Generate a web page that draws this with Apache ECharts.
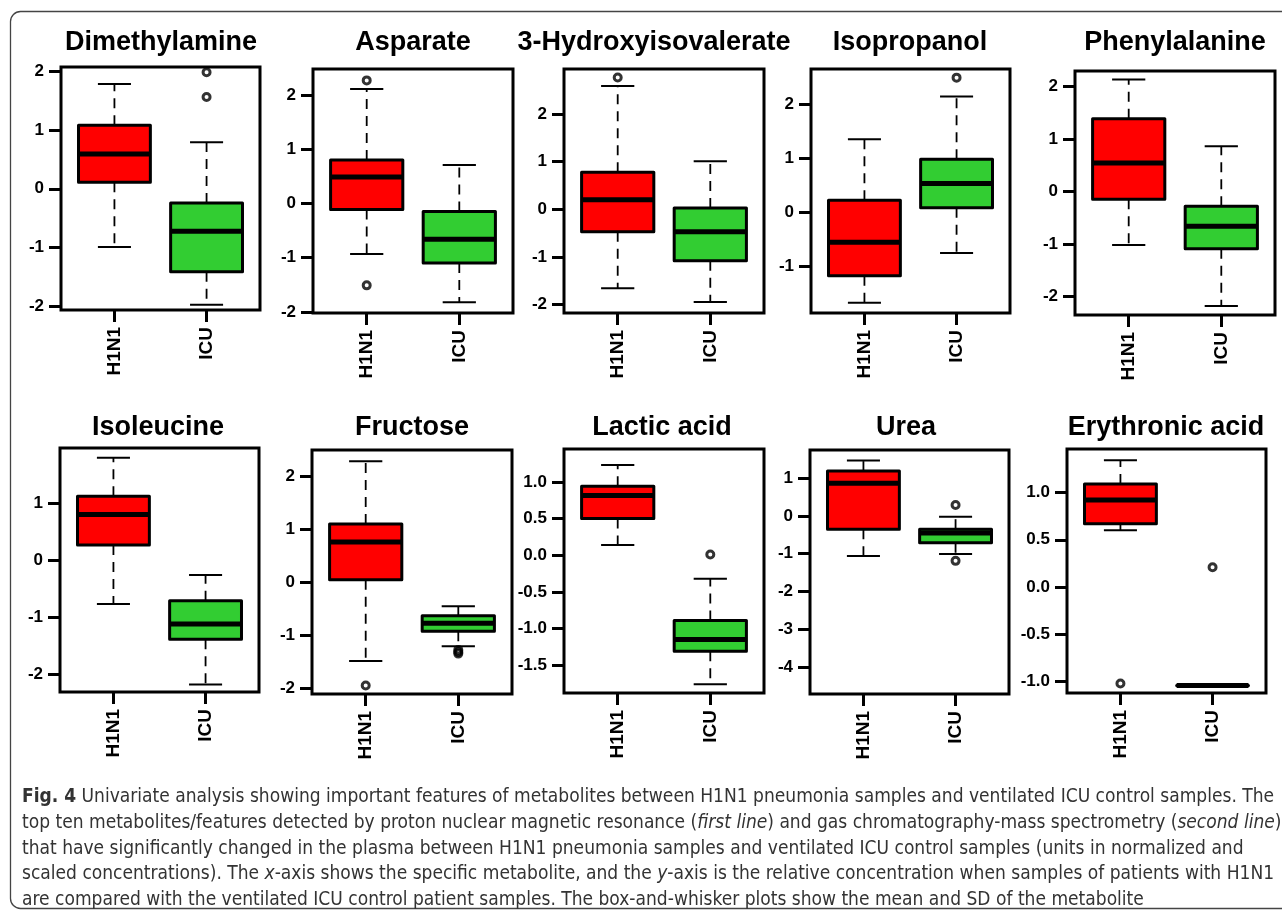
<!DOCTYPE html>
<html>
<head>
<meta charset="utf-8">
<script src="https://cdn.jsdelivr.net/npm/echarts@6.0.0/dist/echarts.min.js"></script>
<style>
html,body{margin:0;padding:0;background:#fff;}
#chart{width:1282px;height:913px;}
</style>
</head>
<body>
<div id="chart"></div>
<script>
// ---------------- data ----------------
const groups = ['H1N1', 'ICU'];
const metabolites = ['Dimethylamine', 'Asparate', '3-Hydroxyisovalerate', 'Isopropanol', 'Phenylalanine',
                     'Isoleucine', 'Fructose', 'Lactic acid', 'Urea', 'Erythronic acid'];
// [lower whisker, Q1, median, Q3, upper whisker]
const h1n1Boxes = [
  [-0.99, 0.11, 0.59, 1.08, 1.78],
  [-0.93, -0.11, 0.49, 0.80, 2.11],
  [-1.66, -0.47, 0.20, 0.78, 2.59],
  [-1.68, -1.18, -0.56, 0.22, 1.35],
  [-1.02, -0.15, 0.54, 1.38, 2.13],
  [-0.77, 0.27, 0.81, 1.13, 1.81],
  [-1.48, 0.05, 0.76, 1.10, 2.28],
  [0.14, 0.50, 0.815, 0.94, 1.23],
  [-1.06, -0.35, 0.87, 1.19, 1.47],
  [0.60, 0.67, 0.92, 1.09, 1.34]
];
const icuBoxes = [
  [-1.97, -1.41, -0.72, -0.24, 0.79],
  [-1.82, -1.10, -0.66, -0.15, 0.71],
  [-1.95, -1.08, -0.47, 0.03, 1.01],
  [-0.76, 0.08, 0.53, 0.98, 2.14],
  [-2.18, -1.09, -0.66, -0.28, 0.86],
  [-2.19, -1.39, -1.12, -0.71, -0.26],
  [-1.20, -0.92, -0.77, -0.63, -0.45],
  [-1.76, -1.31, -1.15, -0.89, -0.32],
  [-1.01, -0.71, -0.45, -0.35, -0.02],
  [-1.04, -1.04, -1.04, -1.04, -1.04]
];
const h1n1Outliers = [[], [2.27, -1.51], [2.77], [], [], [], [-1.94], [], [], [-1.02]];
const icuOutliers = [[1.56, 1.98], [], [], [2.49], [], [], [-1.27, -1.31, -1.34], [0.01], [0.29, -1.19], [0.21]];
const yMin = [-2.06, -2.02, -2.18, -1.87, -2.35, -2.32, -2.10, -1.88, -4.72, -1.12];
const yMax = [2.07, 2.48, 2.95, 2.65, 2.29, 1.98, 2.49, 1.45, 1.75, 1.46];
const yTicks = [
  [-2, -1, 0, 1, 2],
  [-2, -1, 0, 1, 2],
  [-2, -1, 0, 1, 2],
  [-1, 0, 1, 2],
  [-2, -1, 0, 1, 2],
  [-2, -1, 0, 1],
  [-2, -1, 0, 1, 2],
  [-1.5, -1.0, -0.5, 0.0, 0.5, 1.0],
  [-4, -3, -2, -1, 0, 1],
  [-1.0, -0.5, 0.0, 0.5, 1.0]
];
const yTickDecimals = [0, 0, 0, 0, 0, 0, 0, 1, 0, 1];
const captionLines = [
  '{b|Fig. 4} Univariate analysis showing important features of metabolites between H1N1 pneumonia samples and ventilated ICU control samples. The',
  'top ten metabolites/features detected by proton nuclear magnetic resonance ({i|first line}) and gas chromatography-mass spectrometry ({i|second line})',
  'that have significantly changed in the plasma between H1N1 pneumonia samples and ventilated ICU control samples (units in normalized and',
  'scaled concentrations). The {i|x}-axis shows the specific metabolite, and the {i|y}-axis is the relative concentration when samples of patients with H1N1',
  'are compared with the ventilated ICU control patient samples. The box-and-whisker plots show the mean and SD of the metabolite'
];

// ---------------- layout / style ----------------
const groupColors = ['#ff0000', '#32cd32'];
const panels = [
  [61, 67, 199, 243], [313, 69, 200, 244], [564, 69, 200, 244], [811, 69, 199, 244], [1075, 71, 200, 244],
  [60, 448, 199, 244], [312, 450, 200, 244], [564, 449, 200, 244], [810, 450, 199, 244], [1067, 449, 199, 244]
];
const titleX = [161, 413, 654, 910, 1175, 158, 412, 662, 906, 1166];
const titleY = [43, 43, 43, 43, 43, 428, 428, 428, 428, 428];
const FONT = "'Liberation Sans', Arial, Helvetica, sans-serif";
const CAP_FONT = "'Liberation Sans Narrow', 'DejaVu Sans Condensed', 'Open Sans', sans-serif";

function renderBox(params, api) {
  const x = api.value(0);
  const vals = [1, 2, 3, 4, 5].map(i => api.value(i));
  const pt = vals.map(v => api.coord([x, v]));
  const cx = pt[2][0];
  const bw = api.size([0.78, 0])[0];
  const cw = bw * 0.46;
  const dash = { stroke: '#000', lineWidth: 1.8, lineDash: [10, 7] };
  const solid = { stroke: '#000', lineWidth: 2 };
  return {
    type: 'group',
    children: [
      { type: 'line', shape: { x1: cx, y1: pt[1][1], x2: cx, y2: pt[0][1] }, style: dash },
      { type: 'line', shape: { x1: cx, y1: pt[3][1], x2: cx, y2: pt[4][1] }, style: dash },
      { type: 'line', shape: { x1: cx - cw / 2, y1: pt[0][1], x2: cx + cw / 2, y2: pt[0][1] }, style: solid },
      { type: 'line', shape: { x1: cx - cw / 2, y1: pt[4][1], x2: cx + cw / 2, y2: pt[4][1] }, style: solid },
      { type: 'rect', shape: { x: cx - bw / 2, y: pt[3][1], width: bw, height: pt[1][1] - pt[3][1] },
        style: { fill: groupColors[x - 1], stroke: '#000', lineWidth: 3, lineJoin: 'round' } },
      { type: 'line', shape: { x1: cx - bw / 2, y1: pt[2][1], x2: cx + bw / 2, y2: pt[2][1] },
        style: { stroke: '#000', lineWidth: 5 } }
    ]
  };
}

const grid = [], xAxis = [], yAxis = [], series = [], graphic = [];
metabolites.forEach((name, i) => {
  const [l, t, w, h] = panels[i];
  grid.push({ left: l, top: t, width: w, height: h, show: true, borderColor: '#000', borderWidth: 3, containLabel: false });
  xAxis.push({
    type: 'value', gridIndex: i, min: 0.42, max: 2.58, position: 'bottom',
    axisLine: { show: false, onZero: false }, splitLine: { show: false },
    axisTick: { show: true, customValues: [1, 2], length: 12, lineStyle: { color: '#000', width: 3 } },
    axisLabel: { customValues: [1, 2], rotate: 90, margin: 17, formatter: v => groups[Math.round(v) - 1],
      color: '#000', fontSize: 19, fontWeight: 'bold', fontFamily: FONT }
  });
  const dec = yTickDecimals[i];
  yAxis.push({
    type: 'value', gridIndex: i, min: yMin[i], max: yMax[i], position: 'left',
    axisLine: { show: false, onZero: false }, splitLine: { show: false },
    axisTick: { show: true, customValues: yTicks[i], length: 12, lineStyle: { color: '#000', width: 3 } },
    axisLabel: { customValues: yTicks[i], margin: 17, formatter: v => Number(v).toFixed(dec),
      color: '#000', fontSize: 17, fontWeight: 'bold', fontFamily: FONT }
  });
  series.push({
    type: 'custom', xAxisIndex: i, yAxisIndex: i, renderItem: renderBox,
    encode: { x: 0, y: [1, 2, 3, 4, 5] },
    data: [[1].concat(h1n1Boxes[i]), [2].concat(icuBoxes[i])]
  });
  const outData = h1n1Outliers[i].map(v => [1, v]).concat(icuOutliers[i].map(v => [2, v]));
  series.push({
    type: 'scatter', xAxisIndex: i, yAxisIndex: i, symbol: 'circle', symbolSize: 7, z: 5,
    itemStyle: { color: 'rgba(255,255,255,0)', borderColor: '#000', borderWidth: 3 },
    data: outData
  });
  graphic.push({
    type: 'text', x: titleX[i], y: titleY[i], silent: true,
    style: { text: name, fill: '#000', fontSize: 27, fontWeight: 'bold', fontFamily: FONT,
      align: 'center', verticalAlign: 'middle' }
  });
});

// caption: fit font size so first line spans the figure width
function captionWidth(size) {
  const ctx = document.createElement('canvas').getContext('2d');
  ctx.font = 'bold ' + size + 'px ' + CAP_FONT;
  let w = ctx.measureText('Fig. 4').width;
  ctx.font = size + 'px ' + CAP_FONT;
  w += ctx.measureText(captionLines[0].replace('{b|Fig. 4}', '')).width;
  return w;
}
const capSize = Math.min(21, 20 * 1253 / captionWidth(20));
const capColor = '#333';
const capY = [797, 823, 849, 874.5, 900];
captionLines.forEach((line, k) => {
  graphic.push({
    type: 'text', x: 22, y: capY[k], silent: true,
    style: {
      text: line, fill: capColor, fontSize: capSize, fontFamily: CAP_FONT, verticalAlign: 'middle',
      rich: {
        b: { fontWeight: 'bold', fontSize: capSize, fontFamily: CAP_FONT, fill: capColor },
        i: { fontStyle: 'italic', fontSize: capSize, fontFamily: CAP_FONT, fill: capColor }
      }
    }
  });
});
graphic.push({
  type: 'rect', silent: true, z: -1,
  shape: { x: 10.5, y: 11.5, width: 1290, height: 897, r: 10 },
  style: { fill: 'none', stroke: '#444', lineWidth: 1.3 }
});

const chart = echarts.init(document.getElementById('chart'), null, { renderer: 'canvas' });
chart.setOption({
  backgroundColor: '#fff',
  animation: false,
  grid, xAxis, yAxis, series, graphic
});
</script>
</body>
</html>
